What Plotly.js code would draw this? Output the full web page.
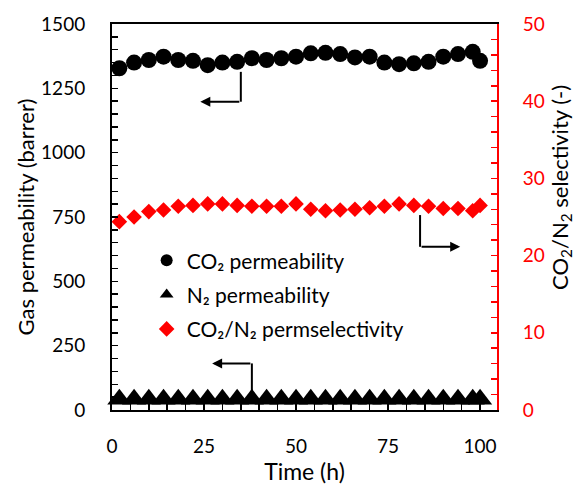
<!DOCTYPE html>
<html>
<head>
<meta charset="utf-8">
<script src="https://cdn.plot.ly/plotly-3.0.1.min.js"></script>
<style>html,body{margin:0;padding:0;background:#fff;}#chart{width:579px;height:485px;}</style>
</head>
<body>
<div id="chart"></div>
<script>
var timeH = [2,6,10,14,18,22,26,30,34,38,42,46,50,54,58,62,66,70,74,78,82,86,90,94,98,100];
var co2Perm = [1328,1350,1360,1373,1360,1357,1340,1350,1353,1367,1360,1367,1373,1386,1388,1383,1370,1373,1350,1344,1347,1353,1373,1383,1392,1357];
var n2Perm = [42,42,42,42,42,42,42,42,42,42,42,42,42,42,42,42,42,42,42,42,42,42,42,42,42,42];
var selectivity = [24.4,25.0,25.7,25.9,26.4,26.5,26.7,26.7,26.5,26.4,26.4,26.4,26.7,26.0,25.8,25.9,26.0,26.2,26.4,26.7,26.5,26.4,26.1,26.1,25.8,26.5];

var FONT = 'Lato, "Open Sans", sans-serif';

var traces = [
  {x: timeH, y: co2Perm, type: 'scatter', mode: 'markers', name: 'CO₂ permeability',
   legendgroup: 'a', cliponaxis: false,
   marker: {symbol: 'circle', size: 16, color: '#000000'}},
  {x: timeH, y: n2Perm, type: 'scatter', mode: 'markers', name: 'N₂ permeability',
   legendgroup: 'b', cliponaxis: false,
   marker: {symbol: 'triangle-up', size: 21, color: '#000000'}},
  {x: timeH, y: selectivity, type: 'scatter', mode: 'markers', name: 'CO₂/N₂ permselectivity',
   legendgroup: 'c', yaxis: 'y2', cliponaxis: false,
   marker: {symbol: 'diamond', size: 12, color: '#FF0000'}}
];

var layout = {
  width: 579, height: 485,
  margin: {l: 112, r: 82, t: 24, b: 75},
  paper_bgcolor: '#ffffff', plot_bgcolor: '#ffffff',
  font: {family: FONT, size: 19, color: '#000000'},
  showlegend: true,
  legend: {x: 0.09, y: 0.44, xanchor: 'left', yanchor: 'top',
           bgcolor: 'rgba(0,0,0,0)', font: {family: FONT, size: 21, color: '#000'},
           traceorder: 'grouped', tracegroupgap: 4, itemsizing: 'constant'},
  xaxis: {
    range: [0, 104.6], dtick: 25, tick0: 0,
    showline: true, linecolor: '#000', linewidth: 2, mirror: true,
    ticks: 'inside', ticklen: 6, tickwidth: 1.5, tickcolor: '#000',
    minor: {dtick: 5, ticks: 'inside', ticklen: 6, tickwidth: 1.5, tickcolor: '#000'},
    showgrid: false, zeroline: false,
    ticklabelstandoff: 18,
    tickfont: {family: FONT, size: 19, color: '#000'},
    title: {text: 'Time (h)', font: {family: FONT, size: 23, color: '#000'}, standoff: 8}
  },
  yaxis: {
    range: [0, 1500], dtick: 250, tick0: 0,
    showline: true, linecolor: '#000', linewidth: 2,
    ticks: 'inside', ticklen: 6, tickwidth: 1.5, tickcolor: '#000',
    minor: {dtick: 50, ticks: 'inside', ticklen: 6, tickwidth: 1.5, tickcolor: '#000'},
    showgrid: false, zeroline: false,
    ticklabelstandoff: 21,
    tickfont: {family: FONT, size: 19, color: '#000'},
    title: {text: 'Gas permeability (barrer)', font: {family: FONT, size: 22, color: '#000'}}
  },
  yaxis2: {
    range: [0, 50], dtick: 10, tick0: 0,
    overlaying: 'y', side: 'right',
    showline: true, linecolor: '#FF0000', linewidth: 2,
    ticks: 'inside', ticklen: 6, tickwidth: 1.5, tickcolor: '#FF0000',
    minor: {dtick: 2, ticks: 'inside', ticklen: 6, tickwidth: 1.5, tickcolor: '#FF0000'},
    showgrid: false, zeroline: false,
    ticklabelstandoff: 20,
    tickfont: {family: FONT, size: 19, color: '#FF0000'}
  },
  shapes: [
    {type: 'line', xref: 'x', yref: 'y', x0: 35, x1: 35, y0: 1314, y1: 1198, line: {color: '#000', width: 2}},
    {type: 'line', xref: 'x', yref: 'y', x0: 38, x1: 38, y0: 57, y1: 181, line: {color: '#000', width: 2}},
    {type: 'line', xref: 'x', yref: 'y2', x0: 83.7, x1: 83.7, y0: 25.25, y1: 21.14, line: {color: '#000', width: 2}}
  ],
  annotations: [
    {xref: 'x', yref: 'y', axref: 'x', ayref: 'y', x: 24, y: 1198, ax: 35, ay: 1198,
     text: '', showarrow: true, arrowhead: 2, arrowsize: 1, arrowwidth: 2, arrowcolor: '#000'},
    {xref: 'x', yref: 'y', axref: 'x', ayref: 'y', x: 27.2, y: 181, ax: 38, ay: 181,
     text: '', showarrow: true, arrowhead: 2, arrowsize: 1, arrowwidth: 2, arrowcolor: '#000'},
    {xref: 'x', yref: 'y2', axref: 'x', ayref: 'y2', x: 94.6, y: 21.14, ax: 83.7, ay: 21.14,
     text: '', showarrow: true, arrowhead: 2, arrowsize: 1, arrowwidth: 2, arrowcolor: '#000'},
    {xref: 'paper', yref: 'paper', x: 1.166, y: 0.5775, xanchor: 'center', yanchor: 'middle',
     textangle: -90, showarrow: false,
     text: 'CO<sub>2</sub>/N<sub>2</sub> selectivity (-)',
     font: {family: FONT, size: 22, color: '#000'}}
  ]
};

Plotly.newPlot('chart', traces, layout, {displayModeBar: false, staticPlot: true});
</script>
</body>
</html>
